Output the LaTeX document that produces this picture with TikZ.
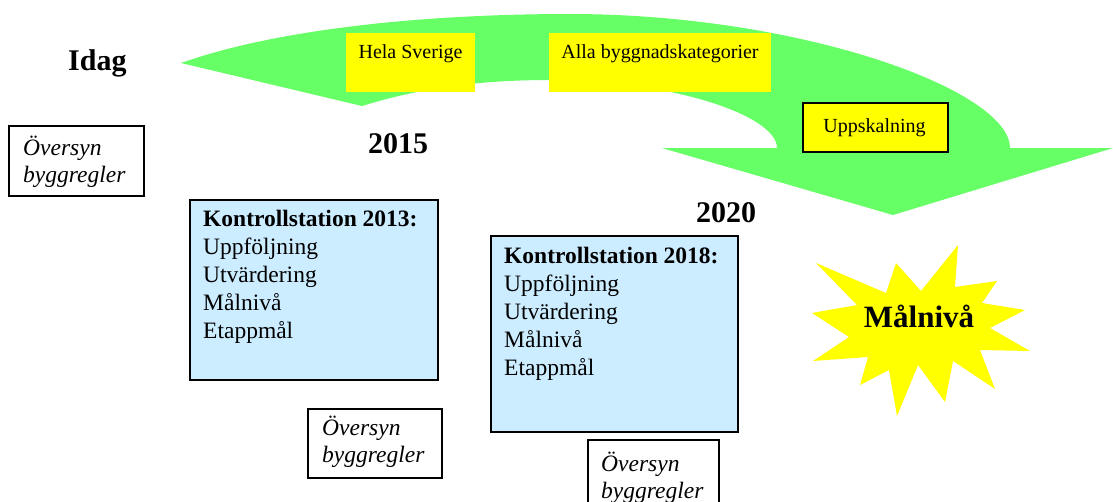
\documentclass[tikz,border=0pt]{standalone}
\usepackage{fontspec}
\setmainfont{Liberation Serif}
\definecolor{arrowgreen}{HTML}{66FF66}
\definecolor{labelyellow}{HTML}{FFFF00}
\definecolor{boxblue}{HTML}{CCECFF}
\begin{document}
\begin{tikzpicture}[x=1pt,y=-1pt,
  yellowbox/.style={fill=labelyellow, inner sep=0, anchor=north west},
  framebox/.style={draw=black, line width=1.5pt, inner sep=0, anchor=north west},
  bluebox/.style={framebox, fill=boxblue},
  smalltxt/.style={inner sep=0, anchor=base, font=\fontsize{20}{24}\selectfont},
  yeartxt/.style={inner sep=0, anchor=base west, font=\fontsize{30}{36}\selectfont\bfseries},
  listtxt/.style={inner sep=0, anchor=base west, font=\fontsize{23.5}{28}\selectfont},
  reviewtxt/.style={inner sep=0, anchor=base west, font=\fontsize{23.5}{27}\selectfont\itshape}]
\useasboundingbox (0,0) rectangle (1113,501);

% curved green arrow
\fill[arrowgreen] (181,63) .. controls (280,28) and (430,14) .. (570,14)
  .. controls (800,14) and (1010,90) .. (1010,148)
  -- (1113,148) -- (893,215) -- (662,148) -- (777,148)
  .. controls (777,115) and (670,80) .. (550,80)
  .. controls (480,80) and (420,88) .. (362,106) -- cycle;

% yellow labels on the arrow
\node[yellowbox, minimum width=129pt, minimum height=59pt] (hela) at (346,33) {};
\node[smalltxt] (helat) at (410.5,58) {Hela Sverige};
\node[yellowbox, minimum width=222pt, minimum height=59pt] (alla) at (549,33) {};
\node[smalltxt] (allat) at (660,58) {Alla byggnadskategorier};
\node[framebox, fill=labelyellow, minimum width=145pt, minimum height=49pt] (upp) at (802,102) {};
\node[smalltxt] (uppt) at (874.5,132) {Uppskalning};

% years
\node[yeartxt] (idag) at (68,70) {Idag};
\node[yeartxt] (y2015) at (368,153) {2015};
\node[yeartxt] (y2020) at (696,222) {2020};

% control stations
\node[bluebox, minimum width=248pt, minimum height=180pt] (k13) at (189,199) {};
\node[listtxt] (k13t) at (203,226) {\begin{tabular}[t]{@{}l@{}}\textbf{Kontrollstation 2013:}\\Uppföljning\\Utvärdering\\Målnivå\\Etappmål\end{tabular}};
\node[bluebox, minimum width=247pt, minimum height=196pt] (k18) at (490,235) {};
\node[listtxt] (k18t) at (504,263) {\begin{tabular}[t]{@{}l@{}}\textbf{Kontrollstation 2018:}\\Uppföljning\\Utvärdering\\Målnivå\\Etappmål\end{tabular}};

% reviews of building rules
\node[framebox, fill=white, minimum width=135pt, minimum height=70pt] (rev1) at (8,125) {};
\node[reviewtxt] (rev1t) at (23,155) {\begin{tabular}[t]{@{}l@{}}Översyn\\byggregler\end{tabular}};
\node[framebox, fill=white, minimum width=134pt, minimum height=69pt] (rev2) at (307,408) {};
\node[reviewtxt] (rev2t) at (322,435) {\begin{tabular}[t]{@{}l@{}}Översyn\\byggregler\end{tabular}};
\node[framebox, fill=white, minimum width=131pt, minimum height=70pt] (rev3) at (587,439) {};
\node[reviewtxt] (rev3t) at (601,471) {\begin{tabular}[t]{@{}l@{}}Översyn\\byggregler\end{tabular}};

% target level starburst
\fill[labelyellow] (958,245) -- (955,287) -- (997,281) -- (982,303) -- (1025,310)
  -- (990,328) -- (1030,351) -- (980,350) -- (995,389) -- (953,361) -- (945,402)
  -- (918,365) -- (897,416) -- (889,370) -- (860,385) -- (868,357) -- (813,361)
  -- (849,337) -- (812,313) -- (857,305) -- (816,263) -- (886,293) -- (896,263)
  -- (921,291) -- cycle;
\node[inner sep=0, anchor=base, font=\fontsize{31}{37}\selectfont\bfseries] (mal) at (919,327) {Målnivå};
\end{tikzpicture}
\end{document}
